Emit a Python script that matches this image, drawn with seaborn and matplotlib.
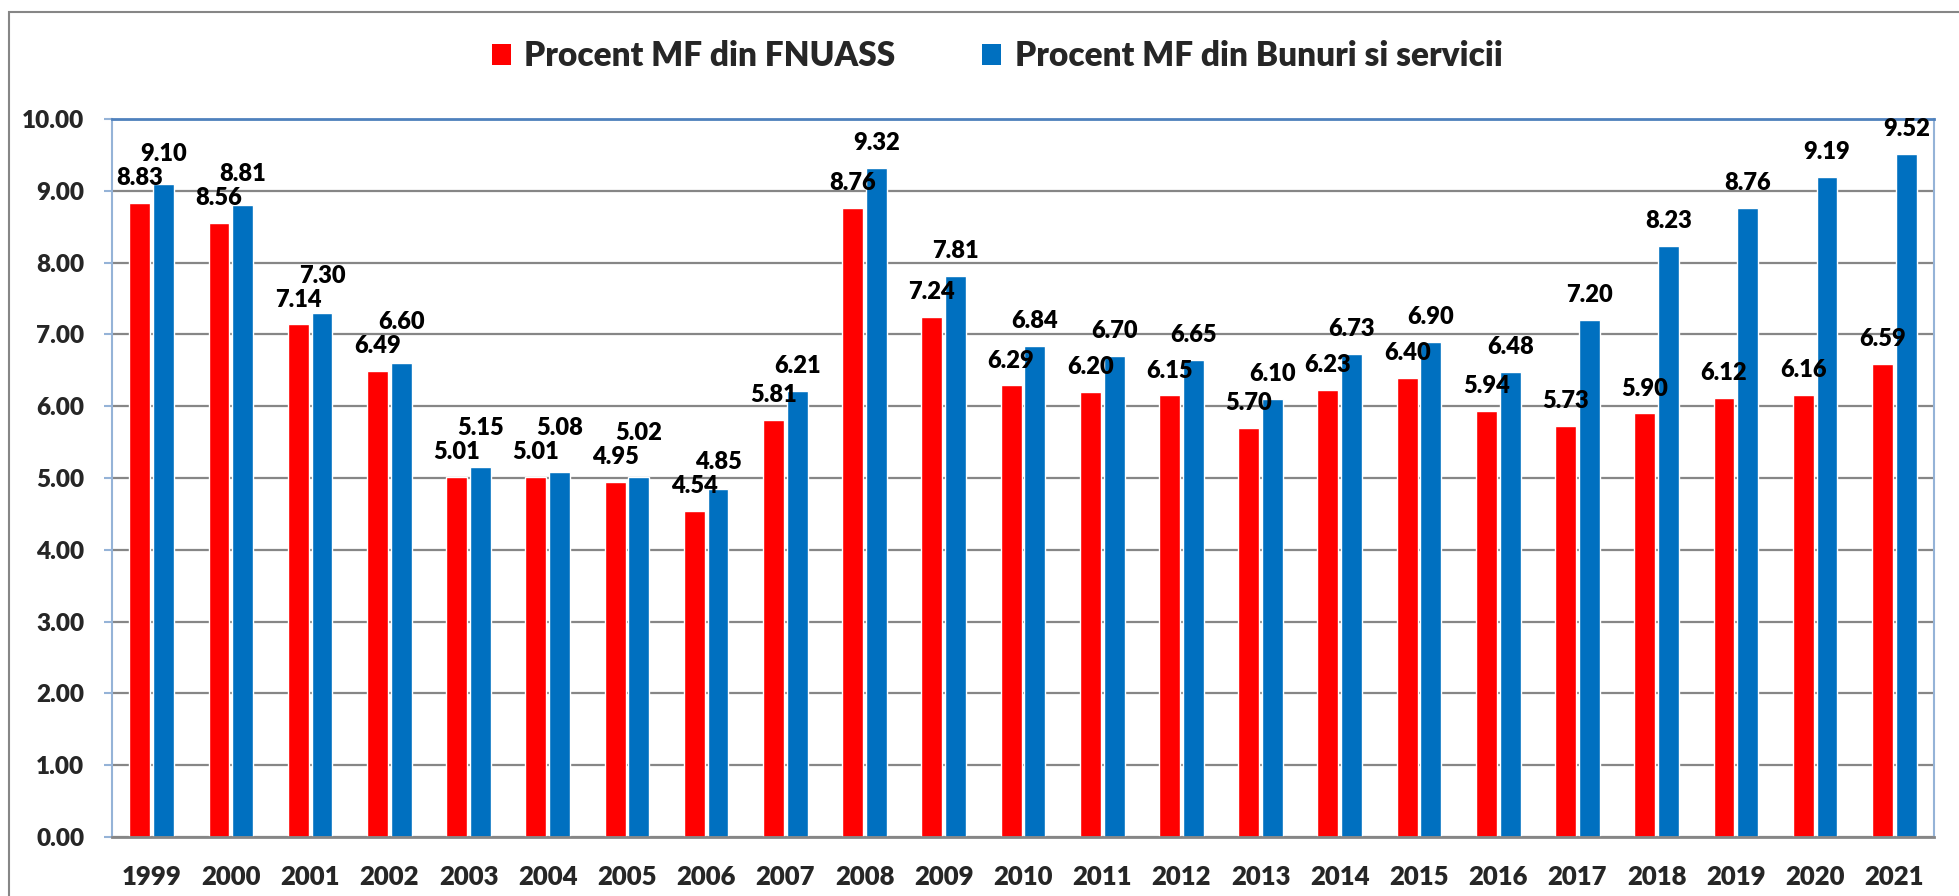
import matplotlib
matplotlib.use("Agg")
import matplotlib.pyplot as plt
from matplotlib.patches import Patch, Rectangle
import seaborn as sns
import pandas as pd

years = [str(y) for y in range(1999, 2022)]
fnuass = [8.83, 8.56, 7.14, 6.49, 5.01, 5.01, 4.95, 4.54, 5.81, 8.76, 7.24, 6.29,
          6.20, 6.15, 5.70, 6.23, 6.40, 5.94, 5.73, 5.90, 6.12, 6.16, 6.59]
bunuri = [9.10, 8.81, 7.30, 6.60, 5.15, 5.08, 5.02, 4.85, 6.21, 9.32, 7.81, 6.84,
          6.70, 6.65, 6.10, 6.73, 6.90, 6.48, 7.20, 8.23, 8.76, 9.19, 9.52]
series = ["Procent MF din FNUASS", "Procent MF din Bunuri si servicii"]
colors = ["#FF0000", "#0070C0"]

df = pd.DataFrame({
    "An": years * 2,
    "Valoare": fnuass + bunuri,
    "Serie": [series[0]] * len(years) + [series[1]] * len(years),
})

sns.set_theme(style="white")
plt.rcParams['font.family'] = ['Lato', 'DejaVu Sans']
plt.rcParams['font.weight'] = 'heavy'

fig = plt.figure(figsize=(19.59, 8.96), dpi=100)
ax = fig.add_axes([0.0572, 0.066, 0.9300, 0.801])

sns.barplot(data=df, x="An", y="Valoare", hue="Serie", hue_order=series,
            palette=colors, width=0.6, gap=0.12, saturation=1, legend=False,
            ax=ax, errorbar=None)

ax.set_ylim(0, 10)
ax.set_xlim(-0.5, len(years) - 0.5)

# etichete cu valori; eticheta albastra urca daca s-ar suprapune cu cea rosie
px_per_unit = ax.get_window_extent().height / 10.0
base_pad = 10.0
label_h = 24  # inaltimea casetei de text, in pixeli
red_bars, blue_bars = ax.containers[0], ax.containers[1]
for rb, bb in zip(red_bars, blue_bars):
    rh, bh = rb.get_height(), bb.get_height()
    extra_px = max(0.0, label_h - (bh - rh) * px_per_unit)
    for bar, pad in [(rb, base_pad), (bb, base_pad + extra_px * 0.72)]:
        ax.annotate("%.2f" % bar.get_height(),
                    xy=(bar.get_x() + bar.get_width() / 2, bar.get_height()),
                    xytext=(0, pad), textcoords="offset points",
                    ha="center", va="bottom", fontsize=17, fontweight="heavy",
                    color="black", annotation_clip=False)

ax.set_yticks([i for i in range(0, 11)])
ax.set_yticklabels(["%.2f" % i for i in range(0, 11)])
ax.set_xlabel("")
ax.set_ylabel("")
ax.yaxis.grid(True, color="#868686", linewidth=1.6)
ax.set_axisbelow(True)
ax.tick_params(axis="y", length=6, width=1.5, color="#95B3D7", pad=14,
               labelsize=17.5, left=True)
ax.tick_params(axis="x", length=0, pad=20, labelsize=18.5)
for lab in ax.get_xticklabels() + ax.get_yticklabels():
    lab.set_fontweight("heavy")

ax.spines["left"].set_color("#95B3D7")
ax.spines["left"].set_linewidth(1.5)
ax.spines["top"].set_color("#4F81BD")
ax.spines["top"].set_linewidth(2)
ax.spines["right"].set_color("#95B3D7")
ax.spines["right"].set_linewidth(1.5)
ax.spines["bottom"].set_color("#868686")
ax.spines["bottom"].set_linewidth(2)

handles = [Patch(facecolor=c, edgecolor="none") for c in colors]
fig.legend(handles, series, loc="center", bbox_to_anchor=(0.509, 0.937),
           ncol=2, frameon=False, handlelength=0.58,
           handleheight=0.58, handletextpad=0.4, columnspacing=2.6,
           prop={"weight": "heavy", "size": 24})

fig.patches.append(Rectangle((9 / 1959, -0.1), 1.2, 1.1 - 12 / 896,
                             transform=fig.transFigure, fill=False,
                             edgecolor="#868686", linewidth=1.5))

fig.savefig("out.png", dpi=100)
